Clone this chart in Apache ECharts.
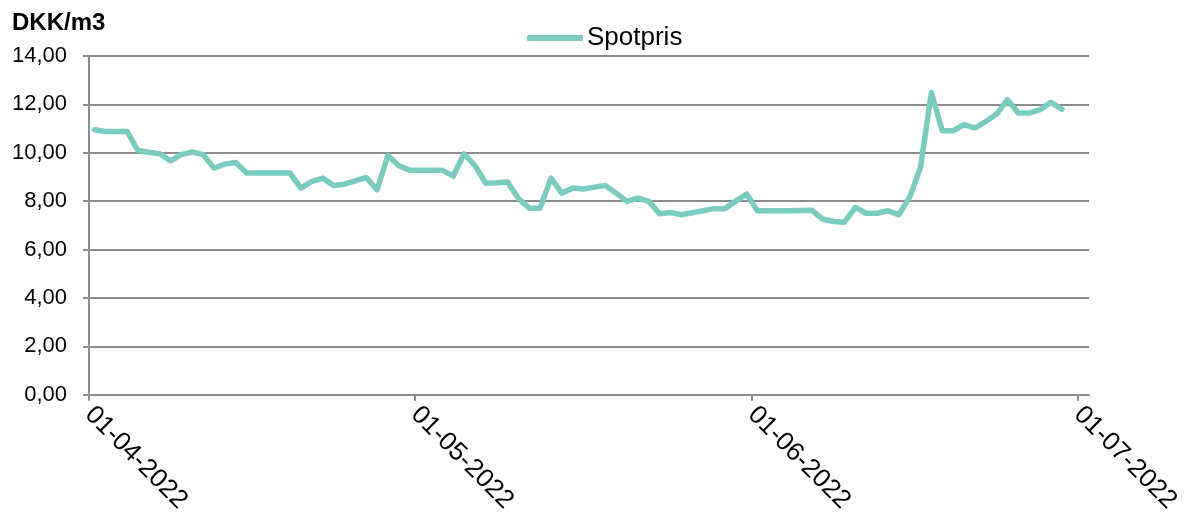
<!DOCTYPE html>
<html>
<head>
<meta charset="utf-8">
<script src="https://cdn.jsdelivr.net/npm/echarts@6/dist/echarts.min.js"></script>
<style>html,body{margin:0;padding:0;background:#fff;}#c{width:1188px;height:516px;}</style>
</head>
<body>
<div id="c"></div>
<script>
// Daily spot price, DKK/m3, starting 01-04-2022
var startDate = [2022, 3, 1];
var spotpris = [
  10.95, 10.88, 10.88, 10.88, 10.09, 10.02, 9.96, 9.67, 9.92, 10.03,
  9.92, 9.37, 9.53, 9.60, 9.16, 9.16, 9.16, 9.16, 9.16, 8.54,
  8.82, 8.95, 8.65, 8.70, 8.84, 8.98, 8.47, 9.89, 9.46, 9.28,
  9.28, 9.28, 9.28, 9.03, 9.95, 9.48, 8.74, 8.76, 8.79, 8.12,
  7.71, 7.71, 8.95, 8.33, 8.54, 8.50, 8.58, 8.65, 8.33, 7.99,
  8.12, 7.99, 7.48, 7.53, 7.44, 7.52, 7.60, 7.69, 7.69, 8.00,
  8.29, 7.60, 7.60, 7.60, 7.60, 7.61, 7.62, 7.26, 7.16, 7.13,
  7.74, 7.50, 7.50, 7.60, 7.44, 8.16, 9.40, 12.49, 10.91, 10.91,
  11.16, 11.02, 11.29, 11.60, 12.19, 11.64, 11.64, 11.78, 12.09, 11.80
];
var xTickLabels = ['01-04-2022', '01-05-2022', '01-06-2022', '01-07-2022'];
var yTicks = [0, 2, 4, 6, 8, 10, 12, 14];
var seriesName = 'Spotpris';
var unitLabel = 'DKK/m3';

var DAY = 86400000;
function utc(y, m, d) { return Date.UTC(y, m, d); }
var t0 = utc(startDate[0], startDate[1], startDate[2]);
function dayOffset(s) {
  var p = s.split('-');
  return Math.round((utc(+p[2], +p[1] - 1, +p[0]) - t0) / DAY);
}
// each day is plotted in the middle of its interval
var data = spotpris.map(function (v, i) { return [i + 0.5, v]; });
var tickValues = xTickLabels.map(dayOffset);
var xMax = tickValues[tickValues.length - 1] + 1;

var chart = echarts.init(document.getElementById('c'));
var gray = '#8c8c8c';
var FONT = 'Liberation Sans, Arial, sans-serif';
chart.setOption({
  animation: false,
  textStyle: { fontFamily: FONT },
  graphic: [{
    type: 'text', left: 12, top: 11,
    style: { text: unitLabel, font: 'bold 24px "Liberation Sans", Arial, sans-serif', fill: '#000' }
  }],
  legend: {
    top: 20, left: 522,
    itemWidth: 56, itemHeight: 6, itemGap: 4,
    icon: 'roundRect',
    textStyle: { fontSize: 26, color: '#000', fontFamily: FONT, padding: [0, 0, 0, -1] },
    data: [seriesName]
  },
  grid: { left: 89, right: 99, top: 56, bottom: 121, containLabel: false },
  xAxis: {
    type: 'value',
    min: 0, max: xMax,
    axisLine: { lineStyle: { color: gray, width: 2 } },
    axisTick: { show: true, length: 6, lineStyle: { color: gray, width: 2 }, customValues: tickValues },
    axisLabel: {
      customValues: tickValues,
      rotate: -45, margin: 16,
      fontSize: 26, color: '#000',
      formatter: function (val) {
        var idx = tickValues.indexOf(val);
        return idx >= 0 ? xTickLabels[idx] : '';
      }
    },
    splitLine: { show: false }
  },
  yAxis: {
    type: 'value', min: yTicks[0], max: yTicks[yTicks.length - 1], interval: 2,
    axisLine: { show: true, lineStyle: { color: gray, width: 2 } },
    axisTick: { show: true, length: 6, lineStyle: { color: gray, width: 2 } },
    axisLabel: {
      fontSize: 22, color: '#000', margin: 22,
      formatter: function (v) { return v.toFixed(2).replace('.', ','); }
    },
    splitLine: { lineStyle: { color: gray, width: 2 } }
  },
  series: [{
    name: seriesName, type: 'line', data: data,
    showSymbol: false, symbol: 'none',
    lineStyle: { color: '#7accbc', width: 5.5, join: 'round', cap: 'round' },
    itemStyle: { color: '#7accbc' }
  }]
});
</script>
</body>
</html>
